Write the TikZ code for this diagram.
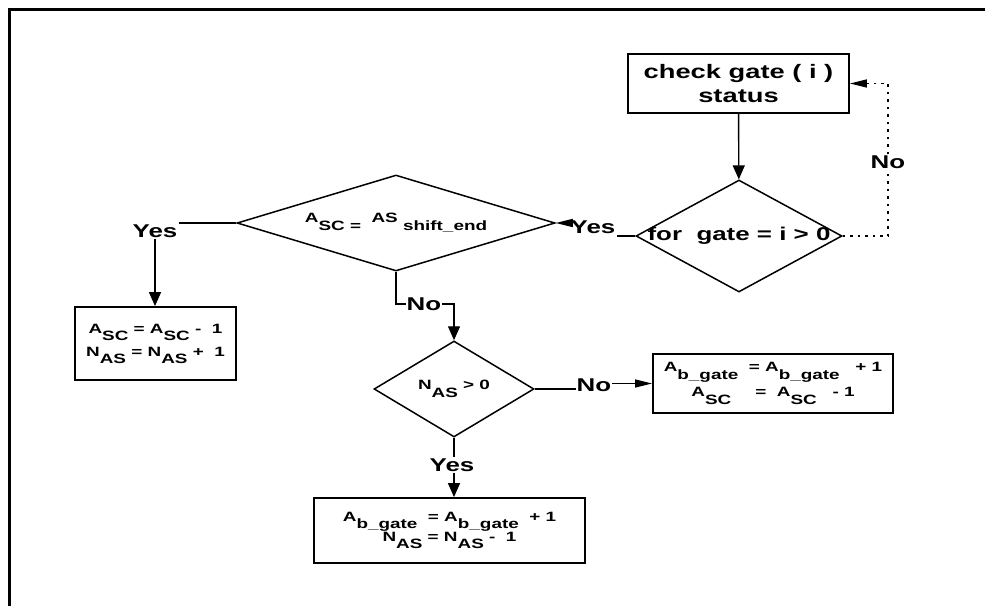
\documentclass[tikz,border=0pt]{standalone}
\usepackage{fontspec}
\setmainfont[FakeStretch=1.4]{Liberation Sans}
\usetikzlibrary{shapes.geometric,arrows.meta}
% lowered subscript part and raised base part of a variable name
\newcommand\lw[2][7pt]{\raisebox{-#1}{#2}}
\newcommand\up[2][8pt]{\raisebox{#1}{#2}}
\begin{document}
\begin{tikzpicture}[x=1pt,y=-1pt,
  lbl/.style={font=\bfseries\fontsize{18.5}{20}\selectfont, inner sep=1pt},
  proc/.style={draw, line width=1.8pt, align=center, inner sep=0pt},
  dec/.style={draw, diamond, line width=1.5pt, inner sep=0pt},
  flow/.style={line width=1.4pt},
  vtip/.style={-{Triangle[length=14pt,width=12pt]}},
  htip/.style={-{Triangle[length=17pt,width=8pt]}},
  dots/.style={line width=1.5pt, dash pattern=on 2.5pt off 5pt},
  small/.style={font=\bfseries\fontsize{13.5}{#1}\selectfont},
]
\useasboundingbox (0,0) rectangle (985,605);
\clip (0,0) rectangle (985,605);
\fill[white] (0,0) rectangle (985,605);
% outer frame
\draw[line width=3pt] (9.5,700) -- (9.5,9.5) -- (1100,9.5);

% boxes and decisions
\node[proc, minimum width=221pt, minimum height=59pt,
      font=\bfseries\fontsize{19.5}{24}\selectfont] (check) at (738.5,83.5)
      {check gate ( i )\\status};
\node[dec, minimum width=206pt, minimum height=112pt,
      font=\bfseries\fontsize{18.5}{20}\selectfont] (gate) at (739,236)
      {\makebox[0pt]{for\ \ gate = i > 0}};
\node[dec, minimum width=318pt, minimum height=96pt, small=14] (asc) at (396,223)
      {\makebox[0pt]{\up{A}SC =\ \ \up{AS}\ shift\_end}};
\node[dec, minimum width=160pt, minimum height=96pt, small=14] (nas) at (454,389)
      {\makebox[0pt]{N\lw[8pt]{AS} > 0}};
\node[proc, minimum width=161pt, minimum height=73pt, small=23] (dec1) at (155.5,343.5)
      {A\lw{SC} = A\lw{SC}\ -\ \ 1\\N\lw{AS} = N\lw{AS}\ +\ \ 1};
\node[proc, minimum width=240pt, minimum height=59pt, small=25] (inc) at (773,383.5)
      {A\lw[8pt]{b\_gate}\ \ = A\lw[8pt]{b\_gate}\ \ \ + 1\\
       A\lw[8pt]{SC}\quad\ \ =\ \ A\lw[8pt]{SC}\ \ \ -\ 1};
\node[proc, minimum width=271pt, minimum height=65pt, small=20] (upd) at (449.5,530.5)
      {A\lw{b\_gate}\ \ = A\lw{b\_gate}\ \ + 1\\N\lw{AS} = N\lw{AS} -\ \ 1};

% branch labels
\node[lbl] (yesL) at (155,231) {Yes};
\node[lbl] (yesM) at (593,227) {Yes};
\node[lbl] (noT)  at (888,162) {No};
\node[lbl] (noM)  at (424,304) {No};
\node[lbl] (noR)  at (594,385) {No};
\node[lbl] (yesB) at (452,465) {Yes};

% connectors
\draw[flow,vtip] (check) -- (gate);
\draw[dots] (gate.east) -| (noT.south);
\draw[dots,htip] (noT.north) |- (check.east);
\draw[flow] (gate.west) -- (gate.west -| yesM.east);
\draw[flow,htip] (yesM.west |- asc.east) -- (asc.east);
\draw[flow] (asc.west) -- (asc.west -| yesL.east);
\draw[flow,vtip] (yesL.south) -- (yesL.south |- dec1.north);
\draw[flow] (asc.south) |- (noM.west);
\draw[flow,vtip] (noM.east) -| (nas.north);
\draw[flow] (nas.east) -- (nas.east -| noR.west);
\draw[flow,htip] (noR.east |- inc.west) -- (inc.west);
\draw[flow] (nas.south) -- (nas.south |- yesB.north);
\draw[flow,vtip] (yesB.south -| nas.south) -- (upd.north -| nas.south);
\end{tikzpicture}
\end{document}
